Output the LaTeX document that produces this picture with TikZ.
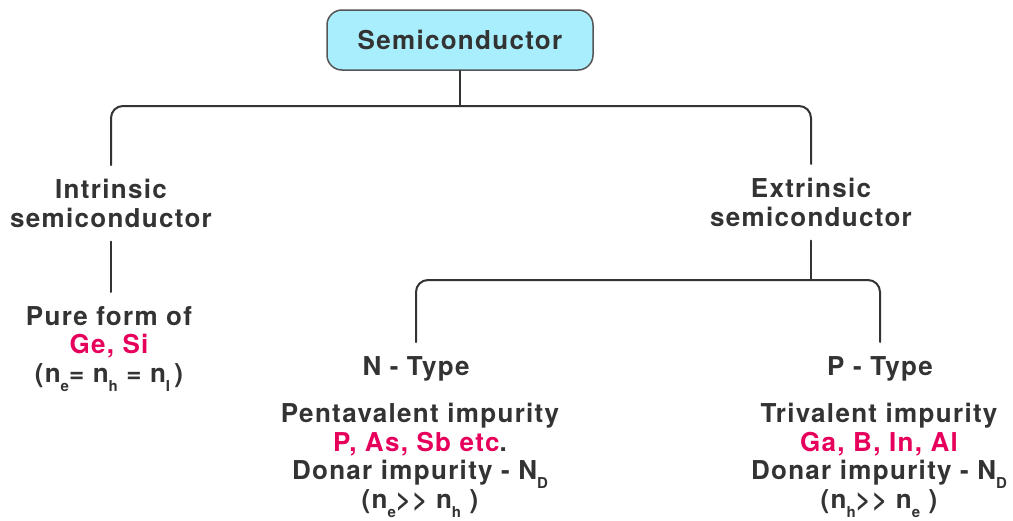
\documentclass[tikz,border=0pt]{standalone}
\usepackage{fontspec}
\setmainfont{TeX Gyre Heros}[LetterSpace=5]
\usepackage{tikz}
\usetikzlibrary{positioning}
\definecolor{inkgray}{HTML}{333333}
\definecolor{edgegray}{HTML}{555555}
\definecolor{rootcyan}{HTML}{A8EEFD}
\definecolor{elempink}{HTML}{E6005C}
\newcommand{\lowsub}[1]{\raisebox{-0.35em}{\fontsize{15}{15}\selectfont #1}}
\newcommand{\elem}[1]{\textcolor{elempink}{#1}}

\begin{document}
\begin{tikzpicture}[line cap=round,line join=round, x=1pt,y=-1pt,
  label/.style={inner xsep=2pt, inner ysep=14pt, align=center, text=inkgray,
    font=\fontsize{26}{28.5}\selectfont\bfseries},
  rootbox/.style={label, draw=edgegray, line width=1.5pt, fill=rootcyan,
    rounded corners=15pt, minimum width=266pt, minimum height=60pt, inner ysep=0pt},
  link/.style={draw=inkgray, line width=2pt, rounded corners=12pt}]
\useasboundingbox (0,0) rectangle (1013,520);
\node[rootbox] (semi) at (460,40) {Semiconductor};
\node[label, anchor=north] (intr) at (111,165) {Intrinsic\\semiconductor};
\node[label, anchor=north] (extr) at (811,164) {Extrinsic\\semiconductor};
\node[label, anchor=north] (pure) at (109,292) {Pure form of\\\elem{Ge, Si}\\(n\lowsub{e}= n\lowsub{h} = n\lowsub{I}\,)};
\node[label, anchor=north] (ntype) at (416,342) {N - Type};
\node[label, anchor=north] (ptype) at (880,342) {P - Type};
\node[label, anchor=north] (nblock) at (420,389) {Pentavalent impurity\\\elem{P, As, Sb etc}.\\Donar impurity - N\lowsub{D}\\(n\lowsub{e}>{}> n\lowsub{h} )};
\node[label, anchor=north] (pblock) at (879,389) {Trivalent impurity\\\elem{Ga, B, In, Al}\\Donar impurity - N\lowsub{D}\\(n\lowsub{h}>{}> n\lowsub{e} )};
\coordinate (bus1) at (460,106);
\coordinate (bus2) at (811,280);
\draw[link] (semi.south) -- (bus1);
\draw[link] (intr.north) |- (bus1) -| (extr.north);
\draw[link] (intr.south) -- (intr.south |- pure.north);
\draw[link] (extr.south) -- (bus2);
\draw[link] (ntype.north) |- (bus2) -| (ptype.north);
\end{tikzpicture}
\end{document}
